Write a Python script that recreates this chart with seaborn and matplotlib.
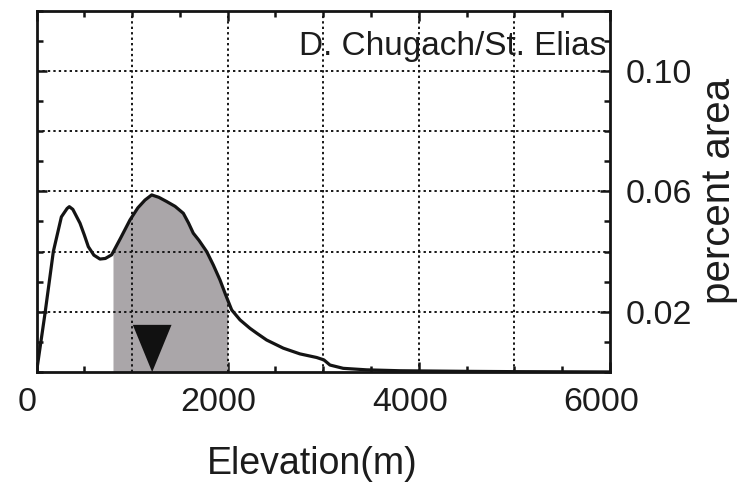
import numpy as np
import pandas as pd
import matplotlib
matplotlib.use("Agg")
import matplotlib.pyplot as plt
import matplotlib.transforms as mtransforms
from matplotlib.ticker import MultipleLocator, FixedLocator, FixedFormatter
import seaborn as sns

# ---- data ----
elevation = [0, 89, 176, 260, 320, 343, 380, 455, 500, 542, 600, 664, 720, 786,
             880, 978, 1060, 1135, 1205, 1280, 1362, 1450, 1536, 1590, 1640, 1700,
             1780, 1850, 1919, 1980, 2042, 2129, 2233, 2303, 2408, 2582, 2756,
             2931, 3007, 3070, 3209, 3454, 3800, 4500, 5000, 6000]
percent_area = [0.0, 0.0195, 0.040, 0.0515, 0.0543, 0.0549, 0.0540, 0.0494, 0.0455,
                0.0416, 0.0388, 0.0375, 0.0377, 0.0389, 0.0445, 0.0505, 0.0545,
                0.0571, 0.0588, 0.0580, 0.0566, 0.0550, 0.0527, 0.0495, 0.0461,
                0.0437, 0.0400, 0.0355, 0.0306, 0.0255, 0.0206, 0.0173, 0.0145,
                0.0129, 0.0106, 0.0079, 0.0060, 0.0048, 0.0040, 0.0023, 0.0012,
                0.0007, 0.0004, 0.0002, 0.0001, 0.0]
shade_range = [800, 2000]
marker_elevation = [1210]
marker_value = [0.0078]
title_text = "D. Chugach/St. Elias"
x_tick_values = [0, 2000, 4000, 6000]
x_tick_labels = ["0", "2000", "4000", "6000"]
y_tick_values = [0.02, 0.06, 0.10]
y_tick_labels = ["0.02", "0.06", "0.10"]

df = pd.DataFrame({"elevation": elevation, "percent": percent_area})

sns.set_theme(style="ticks")
plt.rcParams["font.family"] = ["Liberation Sans", "DejaVu Sans"]

fig = plt.figure(figsize=(7.5, 4.92), dpi=100)
ax = fig.add_axes([0.0487, 0.244, 0.7646, 0.7343])

# shaded band under the curve
xs = np.array(elevation, dtype=float)
inside = xs[(xs > shade_range[0]) & (xs < shade_range[1])]
fx = np.concatenate([[shade_range[0]], inside, [shade_range[1]]])
fy = np.interp(fx, elevation, percent_area)
ax.fill_between(fx, 0, fy, color="#aaa6a9", linewidth=0, zorder=1)

# grid
grid_style = dict(color="#161616", lw=1.4, ls=(0, (1.2, 1.6)), zorder=2)
for gx in range(1000, 6000, 1000):
    ax.axvline(gx, **grid_style)
for gy in [0.02, 0.04, 0.06, 0.08, 0.10]:
    ax.axhline(gy, **grid_style)

sns.lineplot(data=df, x="elevation", y="percent", ax=ax, color="#141414",
             lw=2.3, zorder=4)

tri = [(-0.41, 0.5), (0.41, 0.5), (0.0, -0.5)]
ax.scatter(marker_elevation, marker_value, marker=tri, s=34**2, color="#111111",
           edgecolors="none", zorder=5)

ax.set_xlim(0, 6000)
ax.set_ylim(0, 0.12)

ax.xaxis.set_major_locator(FixedLocator(x_tick_values))
ax.xaxis.set_major_formatter(FixedFormatter(x_tick_labels))
ax.xaxis.set_minor_locator(MultipleLocator(500))
ax.yaxis.set_major_locator(FixedLocator(y_tick_values))
ax.yaxis.set_major_formatter(FixedFormatter(y_tick_labels))
ax.yaxis.set_minor_locator(MultipleLocator(0.01))

ax.tick_params(axis="both", which="major", direction="in", length=7, width=1.8,
               top=True, right=True, left=True, bottom=True, colors="#141414",
               labelsize=24.5, labelcolor="#1c1c1c")
ax.tick_params(axis="both", which="minor", direction="in", length=4, width=1.8,
               top=True, right=True, left=True, bottom=True, colors="#141414")
ax.tick_params(axis="y", labelleft=False, labelright=True, pad=11)
ax.tick_params(axis="x", pad=11)

offset = mtransforms.ScaledTranslation(-0.09, 0, fig.dpi_scale_trans)
for lab in ax.get_xticklabels():
    lab.set_transform(lab.get_transform() + offset)

for sp in ax.spines.values():
    sp.set_linewidth(2.0)
    sp.set_color("#141414")
    sp.set_visible(True)

ax.set_xlabel("Elevation(m)", fontsize=27, color="#1c1c1c")
ax.xaxis.set_label_coords(0.48, -0.205)
ax.yaxis.set_label_position("right")
ax.set_ylabel("percent area", fontsize=29, color="#1c1c1c", labelpad=6)

ax.text(0.993, 0.90, title_text, transform=ax.transAxes, ha="right", va="center",
        fontsize=24, color="#1c1c1c", zorder=6)

fig.savefig("out.png", dpi=100)
